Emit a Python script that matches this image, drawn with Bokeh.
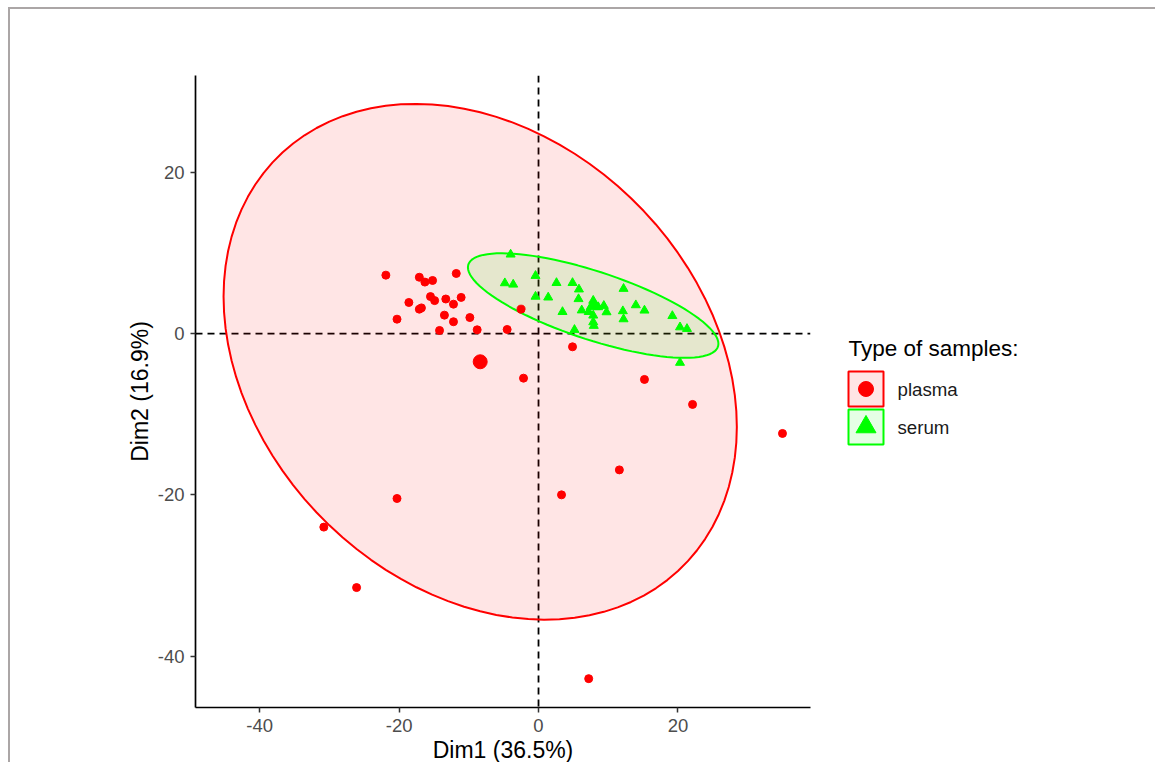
import numpy as np
from bokeh.plotting import figure
from bokeh.models import Range1d, Span, Div, FixedTicker
from bokeh.layouts import row, column
from bokeh.embed import file_html
from bokeh.resources import INLINE
from bokeh.core.properties import value

# Individuals on the first two principal components
plasma_x = [-21.9, -17.1, -16.3, -15.2, -11.8, -18.6, -17.1, -16.8, -15.5, -14.9,
            -13.3, -12.2, -11.1, -20.3, -13.5, -12.2, -9.85, -14.2, -8.8, -4.5,
            -2.5, 4.88, -2.15, 15.2, 22.1, 11.6, 3.3, -20.3, -30.8, -26.1, 7.2, 35.0]
plasma_y = [7.26, 7.0, 6.4, 6.6, 7.47, 3.87, 3.04, 3.2, 4.6, 4.1,
            4.3, 3.66, 4.5, 1.8, 2.3, 1.48, 2.0, 0.4, 0.48, 0.52,
            3.04, -1.63, -5.52, -5.68, -8.78, -16.9, -20.0, -20.45, -24.0, -31.5, -42.8, -12.38]

serum_x = [-4.0, -0.43, -4.83, -3.63, -0.43, 2.58, 4.88, 5.8, 1.39, 5.74,
           3.44, 6.2, 7.2, 7.85, 8.1, 8.57, 9.37, 9.76, 7.85, 7.85,
           7.93, 12.2, 12.1, 12.2, 13.96, 15.2, 19.2, 20.3, 21.3, 5.16, 20.3]
serum_y = [9.83, 7.18, 6.27, 6.1, 4.6, 6.3, 6.3, 5.5, 4.5, 4.3,
           2.7, 2.9, 2.7, 4.1, 3.6, 3.3, 3.46, 2.67, 2.26, 1.43,
           0.98, 5.57, 2.8, 1.8, 3.54, 2.88, 2.2, 0.8, 0.6, 0.48, -3.6]

group_names = ["plasma", "serum"]
group_colors = ["#FF0000", "#00FF00"]
group_markers = ["circle", "triangle"]
axis_ticks = [-40, -20, 0, 20]
x_title = "Dim1 (36.5%)"
y_title = "Dim2 (16.9%)"
legend_title = "Type of samples:"

FONT = "Liberation Sans"


def norm_ellipse(xs, ys, level=0.95, segments=101):
    """Multivariate-normal data ellipse (same construction as stat_ellipse type='norm')."""
    pts = np.column_stack([xs, ys])
    n = len(pts)
    center = pts.mean(axis=0)
    cov = np.cov(pts, rowvar=False)
    dfd = n - 1
    f_quant = dfd / 2.0 * ((1.0 - level) ** (-2.0 / dfd) - 1.0)  # qf(level, 2, dfd)
    radius = np.sqrt(2.0 * f_quant)
    upper = np.linalg.cholesky(cov).T
    theta = np.linspace(0, 2 * np.pi, segments)
    circle = np.column_stack([np.cos(theta), np.sin(theta)])
    ell = center + radius * circle @ upper
    return ell[:, 0], ell[:, 1], center


groups = [(plasma_x, plasma_y), (serum_x, serum_y)]

TOP, FRAME_H, BOTTOM = 66, 632, 55

p = figure(
    x_range=Range1d(-49.21, 39.02),
    y_range=Range1d(-46.38, 32.03),
    frame_width=615, frame_height=FRAME_H,
    min_border_left=185, min_border_right=20,
    min_border_top=TOP, min_border_bottom=BOTTOM,
    output_backend="svg", toolbar_location=None,
)
p.xgrid.visible = False
p.ygrid.visible = False
p.outline_line_color = None
p.background_fill_color = "white"
p.border_fill_color = "white"

# reference lines through the origin
for dim in ("width", "height"):
    p.add_layout(Span(location=0, dimension=dim, line_color="black", line_width=1.8,
                      line_dash="7 5", level="underlay"))

centers = []
for (xs, ys), color in zip(groups, group_colors):
    ex, ey, c = norm_ellipse(xs, ys)
    centers.append(c)
    p.patch(ex, ey, fill_color=color, fill_alpha=0.1, line_color=color, line_width=2)

for (xs, ys), color, marker in zip(groups, group_colors, group_markers):
    p.scatter(xs, ys, marker=marker, size=8 if marker == "circle" else 9,
              fill_color=color, line_color=color, line_width=1)

# group centroids
for c, color, marker in zip(centers, group_colors, group_markers):
    p.scatter([c[0]], [c[1]], marker=marker, size=14,
              fill_color=color, line_color=color, line_width=1)

tick_text = {t: str(t) for t in axis_ticks}
for ax in (p.xaxis[0], p.yaxis[0]):
    ax.ticker = FixedTicker(ticks=axis_ticks)
    ax.major_label_overrides = tick_text
    ax.axis_line_color = "black"
    ax.axis_line_width = 1.7
    ax.major_tick_line_color = "#333333"
    ax.major_tick_line_width = 1.5
    ax.major_tick_out = 5
    ax.major_tick_in = 0
    ax.minor_tick_line_color = None
    ax.major_label_text_font = FONT
    ax.major_label_text_font_size = "18.5px"
    ax.major_label_text_color = "#4D4D4D"
    ax.axis_label_text_font = FONT
    ax.axis_label_text_font_size = "23px"
    ax.axis_label_text_font_style = "normal"
    ax.axis_label_text_color = "black"

p.xaxis.axis_label = x_title
p.yaxis.axis_label = y_title
p.xaxis.major_label_standoff = 6
p.xaxis.axis_label_standoff = 2
p.yaxis.major_label_standoff = 6
p.yaxis.axis_label_standoff = 2

# legend panel; its frame lines up with the main frame, coordinates are page pixels
leg = figure(
    x_range=Range1d(830, 1155), y_range=Range1d(9 + TOP + FRAME_H, 9 + TOP),
    frame_width=325, frame_height=FRAME_H,
    min_border_left=0, min_border_right=0,
    min_border_top=TOP, min_border_bottom=BOTTOM,
    output_backend="svg", toolbar_location=None,
)
leg.axis.visible = False
leg.grid.visible = False
leg.outline_line_color = None

key_left, key_right = 848, 883
key_tops = [371, 409]
key_size = 35
leg.text(x=[848], y=[348], text=[legend_title], text_baseline="alphabetic",
         text_align="left", text_font=value(FONT), text_font_size="22.5px",
         text_color="black")
for i, (name, color, marker) in enumerate(zip(group_names, group_colors, group_markers)):
    top = key_tops[i]
    leg.quad(left=[key_left], right=[key_right], top=[top], bottom=[top + key_size],
             fill_color=color, fill_alpha=0.1, line_color=color, line_width=2)
    cx = (key_left + key_right) / 2
    cy = top + key_size / 2
    leg.scatter([cx], [cy], marker=marker, size=15 if marker == "circle" else 20,
                fill_color=color, line_color=color, line_width=1)
    leg.text(x=[897], y=[cy], text=[name], text_baseline="alphabetic",
             text_align="left", text_font=value(FONT), text_font_size="18.7px",
             text_color="#1A1A1A")

top_line = Div(text="", width=1147, height=2, margin=(7, 0, 0, 8),
               styles={"background-color": "#ABA6A6"})
left_line = Div(text="", width=2, height=753, margin=(0, 0, 0, 8),
                styles={"background-color": "#ABA6A6"})

layout = column(top_line, row(left_line, p, leg))

open("out.html", "w").write(file_html(layout, INLINE))
